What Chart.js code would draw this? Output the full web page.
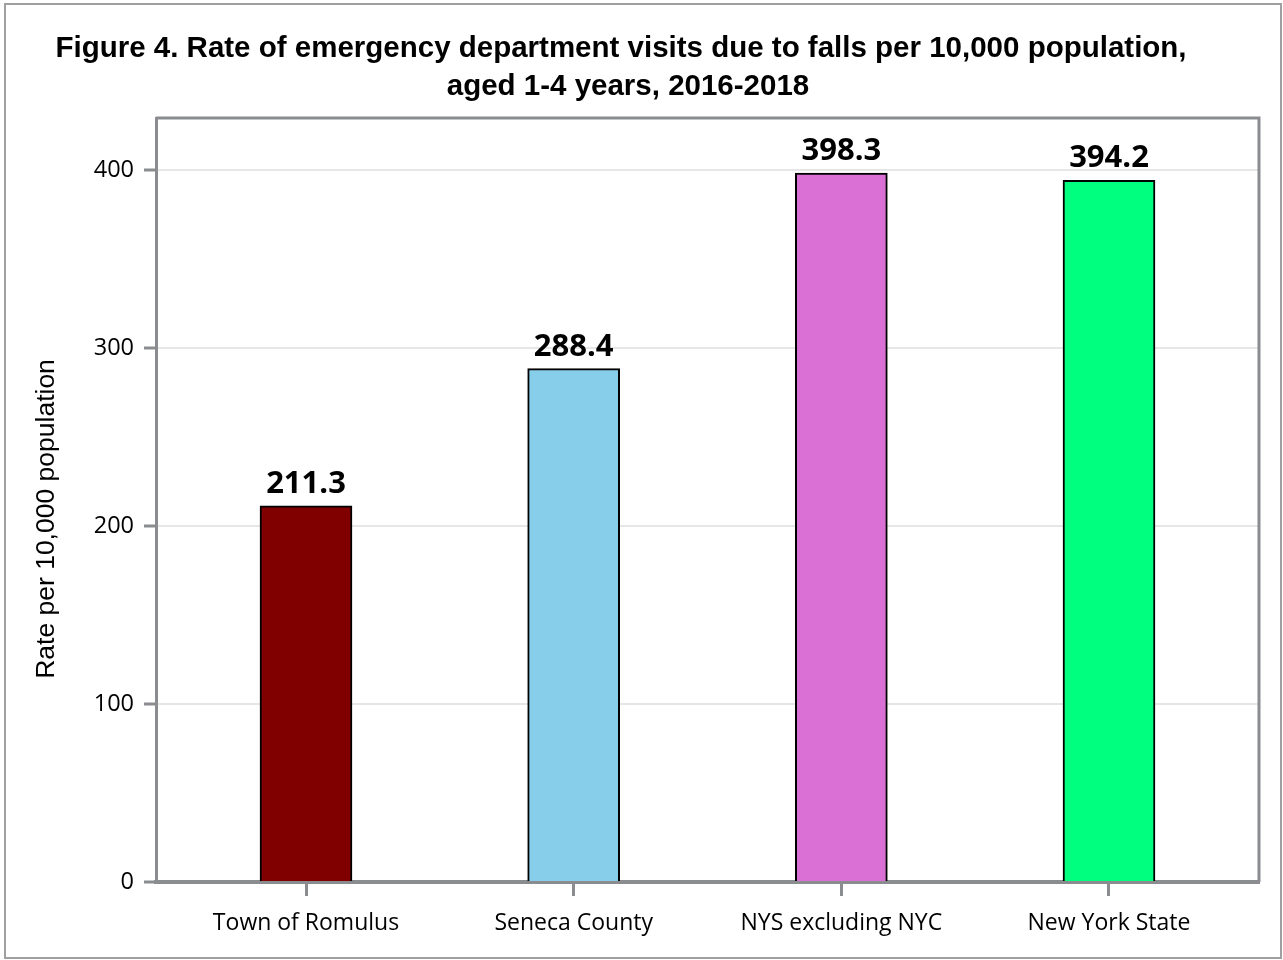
<!DOCTYPE html>
<html>
<head>
<meta charset="utf-8">
<script src="https://cdn.jsdelivr.net/npm/chart.js@4.4.1/dist/chart.umd.min.js"></script>
<style>
  html, body { margin: 0; padding: 0; background: #fff; }
  #wrap { width: 1283px; height: 960px; }
</style>
</head>
<body>
<div id="wrap"><canvas id="chart" width="1283" height="960"></canvas></div>
<script>
// — DATA —
const categories = ['Town of Romulus', 'Seneca County', 'NYS excluding NYC', 'New York State'];
const rates      = [211.3, 288.4, 398.3, 394.2];
const barColors  = ['#800000', '#87CEEB', '#DA70D6', '#00FF7F'];
const yTicks     = [0, 100, 200, 300, 400];
const titleLines = [
  'Figure 4. Rate of emergency department visits due to falls per 10,000 population,',
  'aged 1-4 years, 2016-2018'
];
const yTitle = 'Rate per 10,000 population';

const AXIS_GRAY = '#8a8c8f';

/**
 * Frame, title, top/right plot borders, rotated y title and bar value labels.
 */
const decorations = {
  id: 'decorations',
  beforeDraw(chart) {
    const ctx = chart.ctx;
    ctx.save();
    ctx.fillStyle = '#fff';
    ctx.fillRect(0, 0, chart.width, chart.height);
    ctx.strokeStyle = '#a0a0a0';
    ctx.lineWidth = 2;
    ctx.strokeRect(5, 4, 1276, 954);

    // title
    ctx.fillStyle = '#000';
    ctx.font = 'bold 29.5px "Liberation Sans", Arial, sans-serif';
    ctx.textAlign = 'center';
    ctx.textBaseline = 'alphabetic';
    ctx.fillText(titleLines[0], 621, 57);
    ctx.fillText(titleLines[1], 628, 95);

    // y axis title
    ctx.font = '26.5px "Liberation Sans", Arial, sans-serif';
    ctx.translate(47, 519);
    ctx.rotate(-Math.PI / 2);
    ctx.textBaseline = 'middle';
    ctx.fillText(yTitle, 0, 0);
    ctx.restore();
  },
  afterDatasetsDraw(chart) {
    const ctx = chart.ctx;
    const a = chart.chartArea;
    ctx.save();
    // top + right border of the plot
    ctx.strokeStyle = AXIS_GRAY;
    ctx.lineWidth = 3;
    ctx.beginPath();
    ctx.moveTo(a.left, a.top);
    ctx.lineTo(a.right, a.top);
    ctx.lineTo(a.right, a.bottom);
    ctx.stroke();

    // value labels
    ctx.fillStyle = '#000';
    ctx.font = 'bold 31px "Open Sans", sans-serif';
    ctx.textAlign = 'center';
    ctx.textBaseline = 'alphabetic';
    chart.getDatasetMeta(0).data.forEach((bar, i) => {
      ctx.fillText(rates[i].toFixed(1), bar.x, bar.y - 13);
    });
    ctx.restore();
  }
};

const ctx = document.getElementById('chart').getContext('2d');
new Chart(ctx, {
  type: 'bar',
  data: {
    datasets: [{
      data: rates.map((v, i) => ({ x: i, y: v })),
      backgroundColor: barColors,
      borderColor: '#000',
      borderWidth: 2,
      borderSkipped: 'bottom',
      barThickness: 92
    }]
  },
  options: {
    responsive: false,
    devicePixelRatio: 1,
    animation: false,
    layout: { padding: { top: 118, right: 24, bottom: 0, left: 0 } },
    plugins: {
      legend: { display: false },
      tooltip: { enabled: false },
      title: { display: false }
    },
    scales: {
      x: {
        type: 'linear',
        min: -0.5604,
        max: 3.5604,
        offset: false,
        afterBuildTicks: s => { s.ticks = categories.map((_, i) => ({ value: i })); },
        afterFit: s => { s.height = 78; },
        grid: {
          offset: false,
          drawOnChartArea: false,
          drawTicks: true,
          tickLength: 14,
          tickColor: AXIS_GRAY,
          tickWidth: 3
        },
        border: { display: true, color: AXIS_GRAY, width: 4 },
        ticks: {
          autoSkip: false,
          maxRotation: 0,
          padding: 14,
          color: '#000',
          font: { family: '"Open Sans", sans-serif', size: 23 },
          callback: v => categories[v] ?? ''
        }
      },
      y: {
        min: 0,
        max: 429.2,
        afterBuildTicks: s => { s.ticks = yTicks.map(v => ({ value: v })); },
        afterFit: s => { s.width = 156; },
        grid: {
          color: '#e6e6e6',
          lineWidth: 2,
          tickLength: 12,
          tickColor: AXIS_GRAY,
          tickWidth: 3
        },
        border: { display: true, color: AXIS_GRAY, width: 3 },
        ticks: {
          padding: 10,
          color: '#000',
          font: { family: '"Open Sans", sans-serif', size: 23.5 }
        }
      }
    }
  },
  plugins: [decorations]
});
</script>
</body>
</html>
